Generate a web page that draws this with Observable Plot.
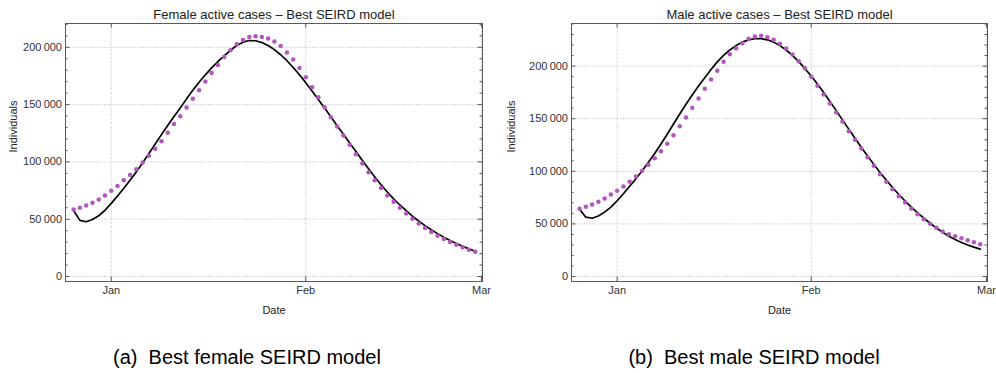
<!DOCTYPE html>
<html><head><meta charset="utf-8">
<script src="https://cdn.jsdelivr.net/npm/d3@7"></script>
<script src="https://cdn.jsdelivr.net/npm/@observablehq/plot@0.6"></script>
<style>
html,body{margin:0;padding:0;background:#fff;}
#wrap{position:relative;width:996px;height:373px;overflow:hidden;font-family:"Liberation Sans",Arial,Helvetica,sans-serif;}
.panel{position:absolute;top:0;}
.cap{position:absolute;top:347px;font-size:20px;line-height:20px;white-space:pre;transform:translateX(-50%);color:#000;}
</style></head><body>
<div id="wrap">
  <div class="panel" id="p1" style="left:0"></div>
  <div class="panel" id="p2" style="left:498px"></div>
  <div class="cap" style="left:247px">(a)  Best female SEIRD model</div>
  <div class="cap" style="left:754px">(b)  Best male SEIRD model</div>
</div>
<script>
// ---- data (daily, 2020-12-26 .. 2021-02-28) ----
const firstDay = "2020-12-26";
const lastDayExclusive = "2021-03-01";

const femaleObserved = [58480, 59940, 62000, 64330, 67250, 70760, 74850, 78950, 83920, 88600, 93570, 99420, 105270, 111400, 118100, 125440, 133040,
  139870, 147430, 155000, 162560, 170120, 177680, 184660, 191640, 197450, 202690, 206470, 209090, 209670, 209090, 207630, 205010, 201230, 195420, 189310, 182040, 173900, 165170, 156450, 147730, 139000,
  131000, 123100, 114900, 106700, 98540, 90940, 83920, 77190, 70760, 65210, 59940, 54970, 50290, 46200, 42400, 38890, 35670, 32750, 30120, 27780, 25440, 23390, 21640];
const femaleModel = [57600, 49000, 47800, 49800, 53000, 57800, 63800, 70300, 77000, 84000, 91300, 99200, 107300, 115600, 123800, 131800, 139600,
  147000, 155000, 162500, 169500, 176000, 182000, 187500, 192600, 197400, 201600, 204500, 205900, 205700, 204200, 201600, 198000, 193500, 188300, 182400, 176000, 169000, 161800, 154500, 147000, 139300,
  131600, 124100, 116600, 109000, 101400, 94000, 86900, 80100, 73700, 67800, 62400, 57400, 52600, 48400, 44400, 40800, 37400, 34300, 31400, 28800, 26400, 24100, 22100];

const maleObserved = [64330, 66230, 68450, 70990, 74150, 77960, 81440, 85560, 90000, 95070, 100460, 106160, 112500, 119150, 126130, 134370, 142920,
  151160, 160350, 169220, 178410, 187290, 195530, 204080, 211370, 217080, 221830, 225950, 228170, 228800, 227540, 225000, 221200, 216760, 211060, 204720, 198060, 189820, 181270, 173030, 164470, 155910,
  147360, 138170, 129930, 121690, 113450, 105210, 97290, 90000, 83030, 76370, 70350, 64650, 59260, 54510, 50070, 46270, 42780, 40250, 38340, 36440, 34540, 32640, 30740];
const maleModel = [64000, 56400, 55400, 57500, 61200, 66000, 72000, 78700, 85800, 93000, 100600, 108600, 117000, 126000, 135300, 145000, 154500,
  163800, 172500, 181000, 189000, 196800, 204000, 210200, 215300, 219500, 222800, 224900, 226000, 226100, 225000, 222800, 219500, 215300, 210200, 204300, 197800, 190600, 182900, 174800, 166400, 157700,
  148900, 140100, 131400, 122900, 114600, 106600, 98900, 91600, 84600, 78000, 71800, 66000, 60500, 55400, 50600, 46100, 42000, 38200, 35100, 32400, 30000, 27900, 26000];

const yTickValues = [0, 50000, 100000, 150000, 200000];
const xTickDates = ["2021-01-01", "2021-02-01", "2021-03-01"];
const xTickLabels = ["Jan", "Feb", "Mar"];

const titles = ["Female active cases \u2013 Best SEIRD model", "Male active cases \u2013 Best SEIRD model"];
const yLabel = "Individuals";
const xLabel = "Date";

// ---- build ----
const days = d3.utcDay.range(new Date(firstDay + "T00:00Z"), new Date(lastDayExclusive + "T00:00Z"));
const xTicks = xTickDates.map(s => new Date(s + "T00:00Z"));
const labelOf = new Map(xTicks.map((d, i) => [+d, xTickLabels[i]]));
const xDomain = [new Date(Date.UTC(2020, 11, 24, 17)), new Date(Date.UTC(2021, 2, 1, 4))];
const minorAll = d3.range(10000, 250000, 10000).filter(v => v % 50000 !== 0);
const locale = d3.formatLocale({decimal: ".", thousands: "\u2009", grouping: [3], currency: ["", ""]});
const fmt = locale.format(",d");

function chart({title, observed, model, yDomain, ml, mr}) {
  const W = 498, H = 320, mt = 23, mb = 39;
  const fw = W - ml - mr, fh = H - mt - mb;
  const obs = days.map((d, i) => ({date: d, value: observed[i]}));
  const mod = days.map((d, i) => ({date: d, value: model[i]}));
  const minor = minorAll.filter(v => v < yDomain[1]);
  const tk = "#555";
  const grid = {stroke: "#bdbdbd", strokeDasharray: "1,1.6", strokeWidth: 1};
  return Plot.plot({
    width: W, height: H, marginLeft: ml, marginRight: mr, marginTop: mt, marginBottom: mb,
    style: {fontFamily: "'Liberation Sans', Arial, Helvetica, sans-serif", fontSize: "11px", color: "#333", background: "white", overflow: "visible"},
    x: {type: "utc", domain: xDomain, axis: null},
    y: {domain: yDomain, axis: null},
    marks: [
      Plot.ruleY(yTickValues, {y: d => d, ...grid}),
      Plot.ruleX(xTicks, {x: d => d, ...grid}),
      Plot.line(mod, {x: "date", y: "value", stroke: "#000", strokeWidth: 1.7}),
      Plot.dot(obs, {x: "date", y: "value", r: 2.25, fill: "#b356bd", stroke: "none"}),
      Plot.tickY(yTickValues, {y: d => d, stroke: tk, insetRight: fw - 4.5}),
      Plot.tickY(yTickValues, {y: d => d, stroke: tk, insetLeft: fw - 4.5}),
      Plot.tickY(minor, {y: d => d, stroke: tk, insetRight: fw - 2.5}),
      Plot.tickY(minor, {y: d => d, stroke: tk, insetLeft: fw - 2.5}),
      Plot.tickX(xTicks, {x: d => d, stroke: tk, insetTop: fh - 4.5}),
      Plot.tickX(xTicks, {x: d => d, stroke: tk, insetBottom: fh - 4.5}),
      Plot.frame({stroke: "#5a5a5a", strokeWidth: 1}),
      Plot.axisY({ticks: yTickValues, tickSize: 0, tickPadding: 3.5, tickFormat: fmt, label: null, fill: "#333"}),
      Plot.axisX({ticks: xTicks, tickSize: 0, tickPadding: 5, tickFormat: d => labelOf.get(+d), label: null, fill: "#333"}),
      Plot.text([title], {text: d => d, frameAnchor: "top", lineAnchor: "middle", dy: -9, fontSize: 13, fill: "#222"}),
      Plot.text([yLabel], {text: d => d, frameAnchor: "left", lineAnchor: "middle", dx: -(ml - 12.5), rotate: -90, fill: "#222"}),
      Plot.text([xLabel], {text: d => d, frameAnchor: "bottom", lineAnchor: "middle", dy: 28.5, fill: "#222"})
    ]
  });
}

document.getElementById("p1").append(chart({title: titles[0], observed: femaleObserved, model: femaleModel, yDomain: [-4360, 220770], ml: 65, mr: 16}));
document.getElementById("p2").append(chart({title: titles[1], observed: maleObserved, model: maleModel, yDomain: [-4750, 240500], ml: 73, mr: 9}));
</script>
</body></html>
